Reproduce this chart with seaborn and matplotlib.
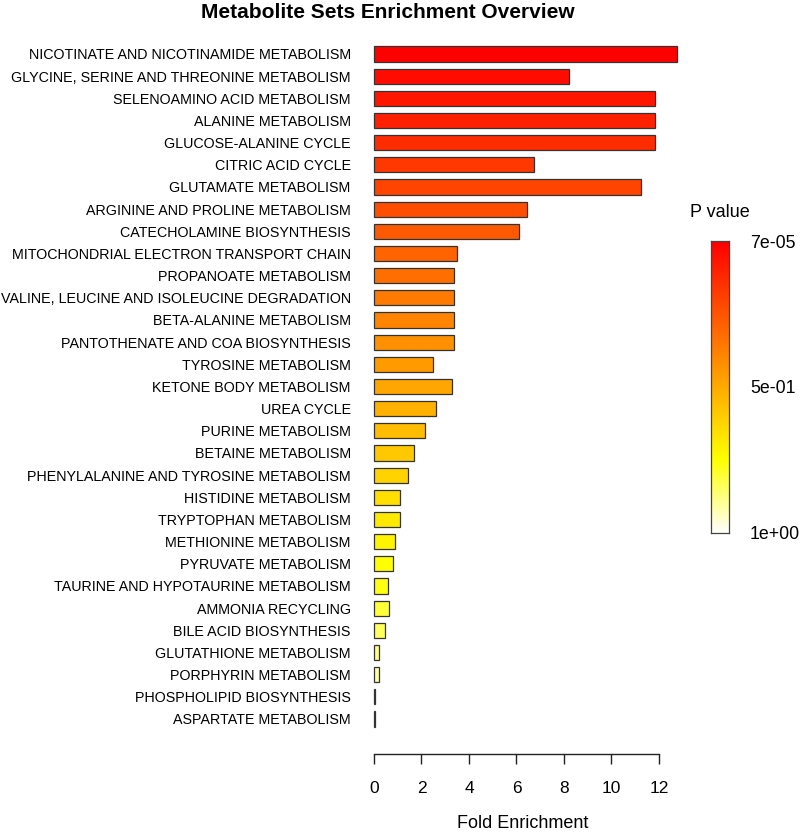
import numpy as np
import pandas as pd
import matplotlib
matplotlib.use("Agg")
import matplotlib.pyplot as plt
import matplotlib.colors as mcolors
import colorsys
import seaborn as sns

names = [
    "NICOTINATE AND NICOTINAMIDE METABOLISM",
    "GLYCINE, SERINE AND THREONINE METABOLISM",
    "SELENOAMINO ACID METABOLISM",
    "ALANINE METABOLISM",
    "GLUCOSE-ALANINE CYCLE",
    "CITRIC ACID CYCLE",
    "GLUTAMATE METABOLISM",
    "ARGININE AND PROLINE METABOLISM",
    "CATECHOLAMINE BIOSYNTHESIS",
    "MITOCHONDRIAL ELECTRON TRANSPORT CHAIN",
    "PROPANOATE METABOLISM",
    "VALINE, LEUCINE AND ISOLEUCINE DEGRADATION",
    "BETA-ALANINE METABOLISM",
    "PANTOTHENATE AND COA BIOSYNTHESIS",
    "TYROSINE METABOLISM",
    "KETONE BODY METABOLISM",
    "UREA CYCLE",
    "PURINE METABOLISM",
    "BETAINE METABOLISM",
    "PHENYLALANINE AND TYROSINE METABOLISM",
    "HISTIDINE METABOLISM",
    "TRYPTOPHAN METABOLISM",
    "METHIONINE METABOLISM",
    "PYRUVATE METABOLISM",
    "TAURINE AND HYPOTAURINE METABOLISM",
    "AMMONIA RECYCLING",
    "BILE ACID BIOSYNTHESIS",
    "GLUTATHIONE METABOLISM",
    "PORPHYRIN METABOLISM",
    "PHOSPHOLIPID BIOSYNTHESIS",
    "ASPARTATE METABOLISM",
]
fold = [12.77, 8.21, 11.83, 11.83, 11.83, 6.75, 11.23, 6.43, 6.11, 3.50,
        3.38, 3.38, 3.38, 3.38, 2.49, 3.30, 2.61, 2.16, 1.67, 1.43,
        1.11, 1.11, 0.90, 0.82, 0.58, 0.62, 0.45, 0.21, 0.21, 0.05, 0.05]
cbar_ticklabels = ["7e-05", "5e-01", "1e+00"]


def heat_colors(n):
    # R's heat.colors(n)
    j = n // 4
    i = n - j
    cols = []
    for k in range(i):
        h = (k / (i - 1)) * (1 / 6) if i > 1 else 0
        cols.append(colorsys.hsv_to_rgb(h, 1, 1))
    if j > 0:
        sats = np.linspace(1 - 1 / (2 * j), 1 / (2 * j), j)
        for s in sats:
            cols.append(colorsys.hsv_to_rgb(1 / 6, s, 1))
    return cols


df = pd.DataFrame({"name": names, "fold": fold})
bar_colors = heat_colors(len(names))

sns.set_style("white")
plt.rcParams["font.family"] = ["Liberation Sans", "DejaVu Sans"]
plt.rcParams["text.color"] = "black"
plt.rcParams["xtick.color"] = "black"
plt.rcParams["ytick.color"] = "black"
plt.rcParams["axes.labelcolor"] = "black"

fig = plt.figure(figsize=(8, 8.34), dpi=100)
ax = fig.add_axes([0.4627, 0.0959, 0.3996, 0.8553])

sns.barplot(data=df, y="name", x="fold", hue="name", palette=bar_colors,
            legend=False, orient="h", width=0.68, edgecolor="#333333",
            linewidth=0.9, ax=ax, dodge=False, saturation=1)

ax.set_xlim(-0.16, 13.3)
ax.set_ylim(31.58, -0.6)
ax.set_xticks(range(0, 13, 2))
ax.set_ylabel("")
ax.set_xlabel("Fold Enrichment", fontsize=13)
ax.xaxis.set_label_coords(0.478, -0.086)

for s in ["top", "right", "left"]:
    ax.spines[s].set_visible(False)
ax.spines["bottom"].set_bounds(0, 12)
ax.spines["bottom"].set_color("#222222")
ax.spines["bottom"].set_linewidth(1.0)

ax.tick_params(axis="y", length=0, pad=14, labelsize=10.3)
ax.tick_params(axis="x", length=7.2, width=1.0, color="#222222", pad=12,
               labelsize=12.5, direction="out", bottom=True)

fig.text(0.485, 0.985, "Metabolite Sets Enrichment Overview", ha="center",
         va="center", fontsize=15, fontweight="bold")

# colorbar
cax = fig.add_axes([0.889, 0.361, 0.0225, 0.350])
cmap = mcolors.ListedColormap(heat_colors(100)[::-1])
grad = np.linspace(0, 1, 100).reshape(-1, 1)
cax.imshow(grad, aspect="auto", cmap=cmap, origin="lower",
           extent=[0, 1, 0, 1])
cax.set_xticks([])
cax.yaxis.tick_right()
cax.set_yticks([1, 0.5, 0])
cax.set_yticklabels(cbar_ticklabels)
cax.tick_params(axis="y", length=0, pad=15, labelsize=12.8)
for sp in cax.spines.values():
    sp.set_color("#444444")
    sp.set_linewidth(0.9)
fig.text(0.9, 0.745, "P value", ha="center", va="center", fontsize=13)

fig.savefig("out.png", dpi=100)
